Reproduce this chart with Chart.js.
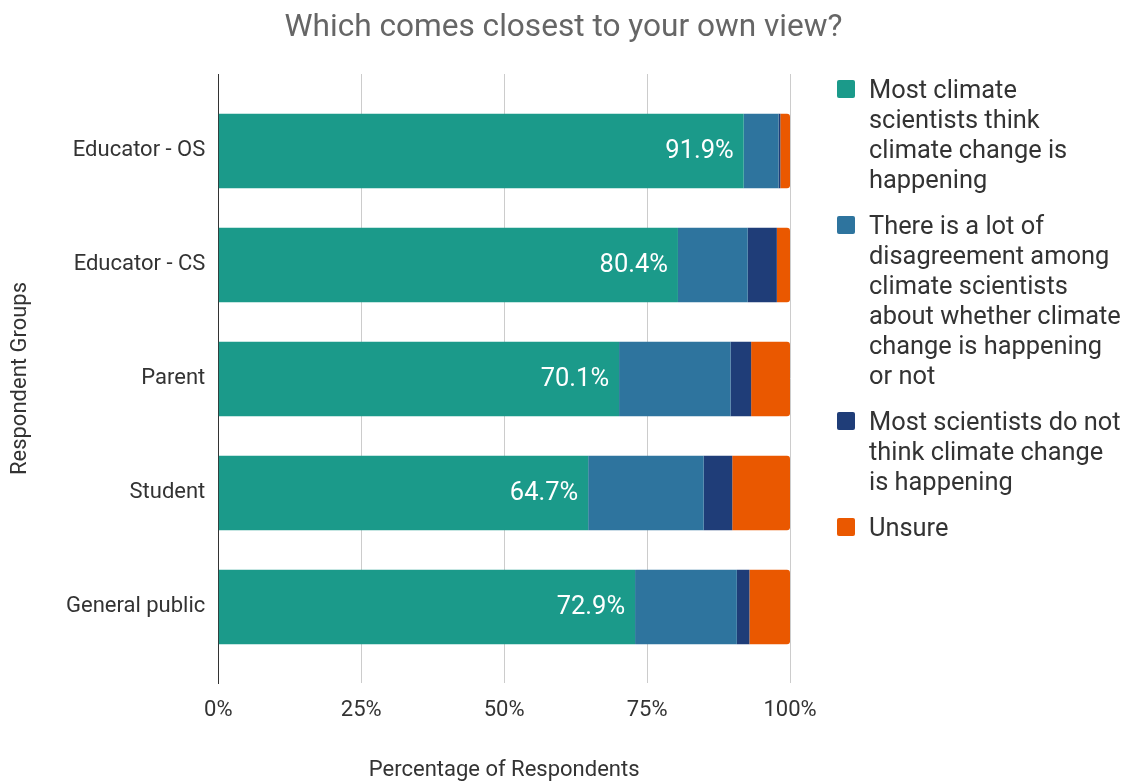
<!DOCTYPE html>
<html>
<head>
<meta charset="utf-8">
<title>Which comes closest to your own view?</title>
<script src="https://cdn.jsdelivr.net/npm/chart.js@4.4.1/dist/chart.umd.min.js"></script>
<style>
  html, body { margin: 0; padding: 0; background: #ffffff; }
  canvas { display: block; }
</style>
</head>
<body>
<canvas id="chart" width="1127" height="781"></canvas>
<script>
// Respondent groups, top to bottom
const groups = ['Educator - OS', 'Educator - CS', 'Parent', 'Student', 'General public'];

// Answer options (legend text, wrapped into lines)
const answerLines = [
  ['Most climate', 'scientists think', 'climate change is', 'happening'],
  ['There is a lot of', 'disagreement among', 'climate scientists', 'about whether climate', 'change is happening', 'or not'],
  ['Most scientists do not', 'think climate change', 'is happening'],
  ['Unsure']
];

// Share of respondents per group (%)
const mostThinkHappening = [91.9, 80.4, 70.1, 64.7, 72.9];
const lotOfDisagreement  = [6.1, 12.2, 19.5, 20.2, 17.8];
const mostDoNotThink     = [0.3, 5.1, 3.6, 5.0, 2.2];
const unsure             = [1.7, 2.3, 6.8, 10.1, 7.1];

// Percentage axis ticks
const percentTicks = [0, 25, 50, 75, 100];

const seriesColors = ['#1b9a8a', '#2e749e', '#1f3d78', '#ea5800'];
const seriesValues = [mostThinkHappening, lotOfDisagreement, mostDoNotThink, unsure];

const FONT = 'Roboto, "Noto Sans", sans-serif';
Chart.defaults.font.family = FONT;
Chart.defaults.color = '#333333';

const LEGEND_WIDTH = 337;

const toPoints = values => values.map((v, i) => ({ x: v, y: i }));

const datasets = seriesValues.map((values, s) => ({
  label: answerLines[s].join(' '),
  data: toPoints(values),
  backgroundColor: seriesColors[s],
  borderWidth: 0,
  borderRadius: s === seriesValues.length - 1 ? { topRight: 3, bottomRight: 3 } : 0,
  categoryPercentage: 0.655,
  barPercentage: 1
}));

// White percentage labels at the end of the first segment
const valueLabels = {
  id: 'valueLabels',
  afterDatasetsDraw(chart) {
    const meta = chart.getDatasetMeta(0);
    const ctx = chart.ctx;
    ctx.save();
    ctx.font = '25.5px ' + FONT;
    ctx.fillStyle = '#ffffff';
    ctx.textAlign = 'right';
    ctx.textBaseline = 'middle';
    meta.data.forEach((bar, i) => {
      ctx.fillText(mostThinkHappening[i].toFixed(1) + '%', bar.x - 10, bar.y + 1);
    });
    ctx.restore();
  }
};

// Legend with wrapped, multi-line entries to the right of the plot
const wrappedLegend = {
  id: 'wrappedLegend',
  afterDraw(chart) {
    const ctx = chart.ctx;
    const area = chart.chartArea;
    const boxLeft = area.right + 47;
    const textLeft = boxLeft + 32;
    const lineHeight = 30;
    const itemGap = 16;
    let y = area.top + 18;
    ctx.save();
    ctx.font = '25.4px ' + FONT;
    ctx.textAlign = 'left';
    ctx.textBaseline = 'middle';
    answerLines.forEach((lines, i) => {
      ctx.fillStyle = seriesColors[i];
      ctx.beginPath();
      if (ctx.roundRect) ctx.roundRect(boxLeft, y - 12, 18, 18, 2);
      else ctx.rect(boxLeft, y - 12, 18, 18);
      ctx.fill();
      ctx.fillStyle = '#333333';
      lines.forEach((line, k) => ctx.fillText(line, textLeft, y + k * lineHeight));
      y += lines.length * lineHeight + itemGap;
    });
    ctx.restore();
  }
};

new Chart(document.getElementById('chart'), {
  type: 'bar',
  data: { datasets },
  plugins: [valueLabels, wrappedLegend],
  options: {
    indexAxis: 'y',
    responsive: false,
    animation: false,
    devicePixelRatio: 1,
    layout: { padding: 0 },
    scales: {
      x: {
        type: 'linear',
        stacked: true,
        min: 0,
        max: 100,
        afterBuildTicks: scale => { scale.ticks = percentTicks.map(v => ({ value: v })); },
        ticks: {
          padding: 13.8,
          color: '#333333',
          font: { size: 22 },
          callback: v => v + '%'
        },
        grid: { color: '#cccccc', lineWidth: 1, drawTicks: false },
        border: { display: false },
        title: {
          display: true,
          text: 'Percentage of Respondents',
          color: '#333333',
          font: { size: 22, lineHeight: 1.0 },
          padding: { top: 22, bottom: 0 }
        }
      },
      y: {
        type: 'linear',
        stacked: true,
        reverse: true,
        offset: false,
        min: -0.675,
        max: 4.667,
        afterBuildTicks: scale => { scale.ticks = groups.map((g, i) => ({ value: i })); },
        ticks: {
          padding: 13,
          color: '#333333',
          font: { size: 22 },
          callback: v => groups[v]
        },
        grid: { display: false, drawTicks: false },
        border: { display: true, color: '#333333', width: 1 },
        title: {
          display: true,
          text: 'Respondent Groups',
          color: '#333333',
          font: { size: 22 },
          padding: { top: 6.8, bottom: 19.8 }
        }
      },
      // Empty right-hand band that holds the legend
      legendBand: {
        type: 'linear',
        axis: 'y',
        position: 'right',
        display: true,
        ticks: { display: false },
        grid: { display: false, drawTicks: false },
        border: { display: false },
        title: { display: false },
        afterFit: scale => { scale.width = LEGEND_WIDTH; }
      }
    },
    plugins: {
      title: {
        display: true,
        text: 'Which comes closest to your own view?',
        color: '#666666',
        font: { size: 31.6, weight: 'normal' },
        padding: { top: 8.8, bottom: 27.3 }
      },
      legend: { display: false },
      tooltip: { enabled: false }
    }
  }
});
</script>
</body>
</html>
